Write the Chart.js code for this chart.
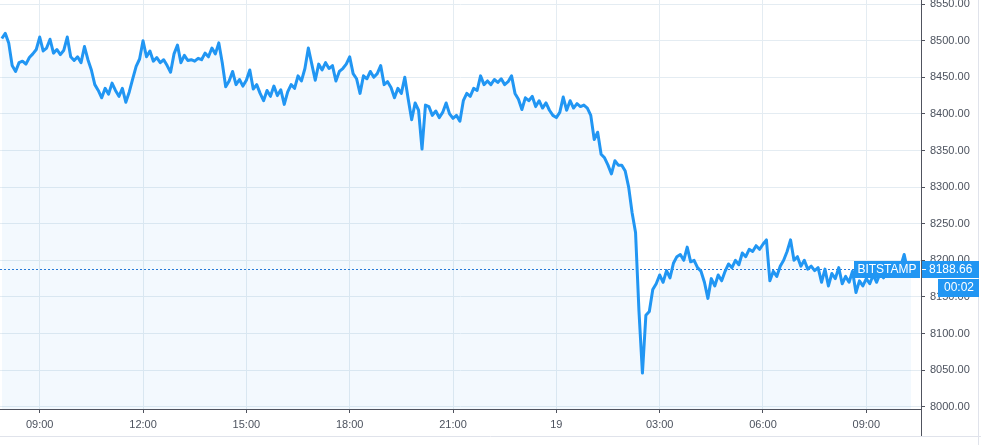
<!DOCTYPE html>
<html>
<head>
<meta charset="utf-8">
<script src="https://cdn.jsdelivr.net/npm/chart.js"></script>
<style>
  html, body { margin: 0; padding: 0; background: #fff; }
  #wrap { position: relative; width: 981px; height: 445px; }
</style>
</head>
<body>
<div id="wrap"><canvas id="chart" width="981" height="445"></canvas></div>
<script>
// hours counted from 18th 00:00, so 24 = "19"
const tickHours = [9, 12, 15, 18, 21, 24, 27, 30, 33]
const tickLabels = ['09:00', '12:00', '15:00', '18:00', '21:00', '19', '03:00', '06:00', '09:00']
const priceTicks = [8000, 8050, 8100, 8150, 8200, 8250, 8300, 8350, 8400, 8450, 8500, 8550]

// one price every 6 minutes starting 07:54
const startHour = 7.9
const stepHours = 0.1
const prices = [
  8503, 8510, 8497, 8466, 8458, 8470, 8472, 8468, 8477, 8482,
  8488, 8505, 8486, 8490, 8502, 8483, 8488, 8481, 8487, 8505,
  8478, 8473, 8478, 8470, 8492, 8474, 8460, 8440, 8432, 8422,
  8435, 8427, 8442, 8432, 8424, 8435, 8416, 8430, 8448, 8465,
  8475, 8500, 8478, 8486, 8472, 8477, 8470, 8474, 8466, 8457,
  8482, 8494, 8470, 8480, 8473, 8474, 8472, 8476, 8474, 8483,
  8478, 8490, 8482, 8497, 8470, 8437, 8445, 8458, 8440, 8447,
  8438, 8446, 8460, 8434, 8440, 8428, 8418, 8432, 8424, 8438,
  8425, 8433, 8413, 8430, 8440, 8435, 8452, 8445, 8462, 8490,
  8468, 8446, 8468, 8460, 8470, 8462, 8466, 8445, 8458, 8462,
  8468, 8478, 8455, 8448, 8428, 8452, 8448, 8458, 8450, 8455,
  8466, 8440, 8444, 8436, 8422, 8435, 8428, 8450, 8420, 8392,
  8415, 8405, 8352, 8412, 8410, 8398, 8404, 8395, 8402, 8415,
  8400, 8394, 8398, 8390, 8418, 8428, 8424, 8435, 8432, 8452,
  8440, 8445, 8440, 8447, 8443, 8448, 8440, 8444, 8452, 8428,
  8420, 8406, 8422, 8418, 8424, 8410, 8418, 8408, 8415, 8405,
  8398, 8395, 8402, 8423, 8405, 8418, 8408, 8414, 8410, 8412,
  8408, 8398, 8365, 8375, 8345, 8340, 8330, 8318, 8336, 8330,
  8330, 8322, 8300, 8265, 8238, 8130, 8046, 8125, 8130, 8160,
  8168, 8180, 8170, 8186, 8176, 8196, 8205, 8208, 8200, 8218,
  8198, 8200, 8190, 8185, 8170, 8148, 8175, 8165, 8180, 8172,
  8185, 8195, 8190, 8200, 8194, 8210, 8205, 8215, 8212, 8220,
  8215, 8222, 8228, 8172, 8185, 8178, 8192, 8200, 8212, 8228,
  8200, 8205, 8192, 8200, 8188, 8192, 8186, 8190, 8170, 8188,
  8165, 8182, 8175, 8190, 8168, 8178, 8170, 8185, 8156, 8172,
  8165, 8175, 8168, 8180, 8170, 8182, 8176, 8188, 8180, 8190,
  8184, 8192, 8208, 8186, 8188.66
]
const lastPrice = 8188.66
const exchange = 'BITSTAMP'
const countdown = '00:02'

const blue = '#2196f3'
const axisColor = '#50535e'
const gridColor = '#e4ecf2'
const textColor = '#4c525e'
const font = { family: "'Liberation Sans', Arial, sans-serif", size: 11 }

const points = prices.map((p, i) => ({ x: startHour + i * stepHours, y: p }))

const overlay = {
  id: 'overlay',
  beforeDatasetsDraw (chart) {
    const { ctx, chartArea: a, scales: { y } } = chart
    const py = Math.round(y.getPixelForValue(lastPrice)) + 0.5
    ctx.save()
    ctx.strokeStyle = '#2a7ad6'
    ctx.lineWidth = 1
    ctx.setLineDash([2, 2])
    ctx.beginPath()
    ctx.moveTo(a.left, py)
    ctx.lineTo(a.right - 66, py)
    ctx.stroke()
    ctx.restore()
  },
  afterDraw (chart) {
    const { ctx, chartArea: a, scales: { y } } = chart
    const py = Math.round(y.getPixelForValue(lastPrice))
    ctx.save()
    // frame
    ctx.lineWidth = 1
    ctx.strokeStyle = '#e0e3eb'
    ctx.beginPath()
    ctx.moveTo(0, 436.5); ctx.lineTo(981, 436.5)
    ctx.moveTo(978.5, 0); ctx.lineTo(978.5, 445)
    ctx.stroke()
    ctx.strokeStyle = axisColor
    ctx.beginPath()
    ctx.moveTo(a.right + 0.5, a.bottom); ctx.lineTo(a.right + 0.5, 436)
    ctx.stroke()

    // label boxes
    ctx.fillStyle = blue
    ctx.fillRect(a.right - 67, py - 8, 66, 17)
    ctx.fillRect(a.right + 1, py - 8, 57, 17)
    ctx.fillRect(a.right + 17, py + 10, 41, 18)
    ctx.strokeStyle = '#fff'
    ctx.beginPath()
    ctx.moveTo(a.right + 1, py + 0.5); ctx.lineTo(a.right + 5, py + 0.5)
    ctx.stroke()

    ctx.fillStyle = '#fff'
    ctx.font = `12px ${font.family}`
    ctx.textBaseline = 'middle'
    ctx.textAlign = 'center'
    ctx.fillText(exchange, a.right - 34, py + 1)
    ctx.fillText(countdown, a.right + 38, py + 19)
    ctx.textAlign = 'left'
    ctx.fillText(lastPrice.toFixed(2), a.right + 8, py + 1)
    ctx.restore()
  }
}

new Chart(document.getElementById('chart'), {
  type: 'line',
  data: {
    datasets: [{
      data: points,
      borderColor: blue,
      borderWidth: 3,
      borderJoinStyle: 'round',
      backgroundColor: 'rgba(33, 150, 243, 0.055)',
      fill: 'start',
      pointRadius: 0,
      tension: 0
    }]
  },
  options: {
    responsive: false,
    animation: false,
    layout: { padding: 0 },
    plugins: { legend: { display: false }, tooltip: { enabled: false } },
    scales: {
      x: {
        type: 'linear',
        min: 7.847,
        max: 34.588,
        afterBuildTicks: s => { s.ticks = tickHours.map(v => ({ value: v })) },
        afterFit: s => { s.height = 36; s.paddingLeft = 0; s.paddingRight = 0 },
        ticks: {
          callback: v => tickLabels[tickHours.indexOf(v)],
          font, color: textColor, padding: 5, maxRotation: 0, autoSkip: false
        },
        grid: { color: gridColor, tickColor: axisColor, tickLength: 4 },
        border: { color: axisColor, width: 1 }
      },
      y: {
        position: 'right',
        min: 7996.9,
        max: 8555.6,
        afterBuildTicks: s => { s.ticks = priceTicks.map(v => ({ value: v })) },
        afterFit: s => { s.width = 60; s.paddingTop = 0; s.paddingBottom = 0 },
        ticks: {
          callback: v => v.toFixed(2),
          font, color: textColor, padding: 5
        },
        grid: { color: gridColor, tickColor: axisColor, tickLength: 4 },
        border: { color: axisColor, width: 1 }
      }
    }
  },
  plugins: [overlay]
})
</script>
</body>
</html>
